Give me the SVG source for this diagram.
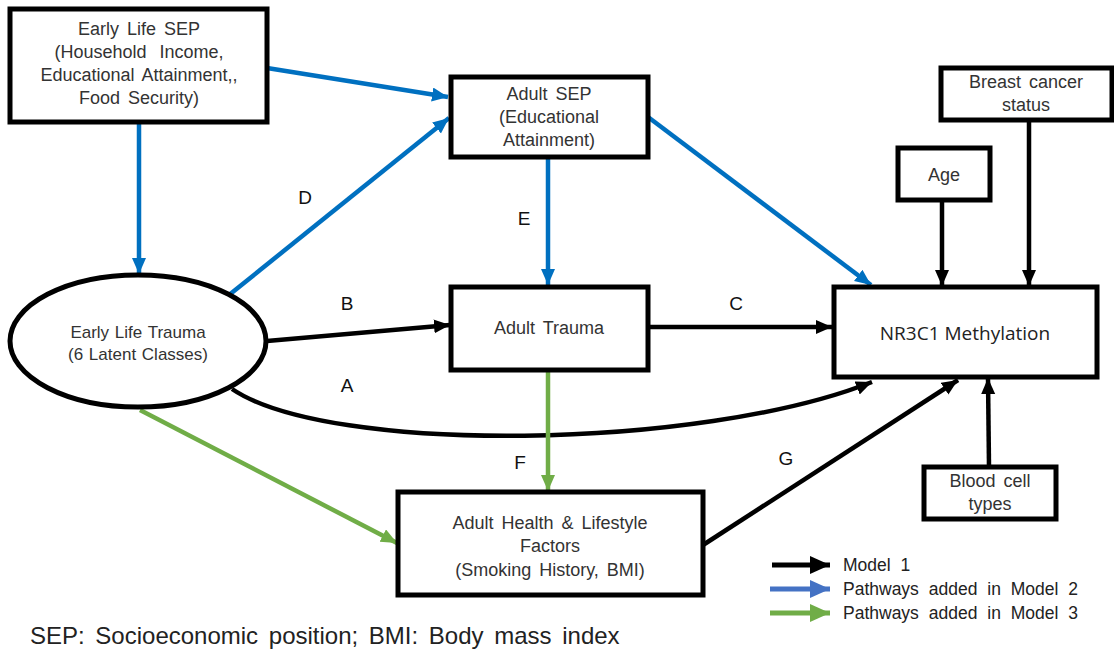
<svg xmlns="http://www.w3.org/2000/svg" width="1114" height="652" viewBox="0 0 1114 652">
<defs>
<marker id="ak" markerUnits="userSpaceOnUse" markerWidth="18" markerHeight="16" refX="16" refY="7" orient="auto"><path d="M0,0 L16,7 L0,14 z" fill="#000"/></marker>
<marker id="ab" markerUnits="userSpaceOnUse" markerWidth="18" markerHeight="16" refX="16" refY="7" orient="auto"><path d="M0,0 L16,7 L0,14 z" fill="#0070C0"/></marker>
<marker id="ag" markerUnits="userSpaceOnUse" markerWidth="18" markerHeight="16" refX="16" refY="7" orient="auto"><path d="M0,0 L16,7 L0,14 z" fill="#70AD47"/></marker>
<marker id="lb" markerUnits="userSpaceOnUse" markerWidth="22" markerHeight="20" refX="20" refY="9" orient="auto"><path d="M0,0 L20,9 L0,18 z" fill="#4472C4"/></marker>
<marker id="lk" markerUnits="userSpaceOnUse" markerWidth="22" markerHeight="20" refX="20" refY="9" orient="auto"><path d="M0,0 L20,9 L0,18 z" fill="#000"/></marker>
<marker id="lg" markerUnits="userSpaceOnUse" markerWidth="22" markerHeight="20" refX="20" refY="9" orient="auto"><path d="M0,0 L20,9 L0,18 z" fill="#70AD47"/></marker>
</defs>
<style>
.box{fill:#fff;stroke:#000;stroke-width:5}
.t{font-family:"Liberation Sans",Arial,sans-serif;font-size:18px;word-spacing:3px;fill:#333;text-anchor:middle}
.lbl{font-family:"Liberation Sans",Arial,sans-serif;font-size:19px;fill:#111;text-anchor:middle}
.k{fill:none;stroke:#000;stroke-width:4.5}
.b{fill:none;stroke:#0070C0;stroke-width:4.5}
.g{fill:none;stroke:#70AD47;stroke-width:4.5}
.leg{font-family:"Liberation Sans",Arial,sans-serif;font-size:17.5px;word-spacing:5px;fill:#222}
</style>
<rect width="1114" height="652" fill="#fff"/>
<g id="connectors">
<line class="b" x1="267" y1="68" x2="448" y2="97" marker-end="url(#ab)"/>
<line class="b" x1="139" y1="122" x2="139" y2="274" marker-end="url(#ab)"/>
<line class="b" x1="229" y1="295" x2="449" y2="118" marker-end="url(#ab)"/>
<line class="b" x1="648" y1="117" x2="871" y2="285" marker-end="url(#ab)"/>
<line class="b" x1="548" y1="157" x2="548" y2="285" marker-end="url(#ab)"/>
<line class="k" x1="267" y1="341" x2="450" y2="325" marker-end="url(#ak)"/>
<line class="k" x1="648" y1="327" x2="832" y2="327" marker-end="url(#ak)"/>
<path class="k" d="M232,389 C330,455 700,450 872,382" marker-end="url(#ak)"/>
<line class="g" x1="548" y1="370" x2="548" y2="491" marker-end="url(#ag)"/>
<line class="g" x1="140" y1="410" x2="397" y2="543" marker-end="url(#ag)"/>
<line class="k" x1="703" y1="545" x2="958" y2="380" marker-end="url(#ak)"/>
<line class="k" x1="942" y1="200" x2="942" y2="286" marker-end="url(#ak)"/>
<line class="k" x1="1029" y1="120" x2="1029" y2="286" marker-end="url(#ak)"/>
<line class="k" x1="989" y1="467" x2="988" y2="378" marker-end="url(#ak)"/>
<text class="lbl" x="305" y="204">D</text>
<text class="lbl" x="524" y="225">E</text>
<text class="lbl" x="347" y="310">B</text>
<text class="lbl" x="736" y="310">C</text>
<text class="lbl" x="347" y="392">A</text>
<text class="lbl" x="520" y="469">F</text>
<text class="lbl" x="786" y="465">G</text>
</g>
<g id="early-sep">
<rect class="box" x="10" y="9" width="257" height="113"/>
<text class="t" x="139" y="35">Early Life SEP</text>
<text class="t" x="139" y="58" style="word-spacing:8px">(Household Income,</text>
<text class="t" x="139" y="81">Educational Attainment,,</text>
<text class="t" x="139" y="104">Food Security)</text>
</g>
<g id="adult-sep">
<rect class="box" x="451" y="77" width="197" height="80"/>
<text class="t" x="549" y="100">Adult SEP</text>
<text class="t" x="549" y="123">(Educational</text>
<text class="t" x="549" y="146">Attainment)</text>
</g>
<g id="early-trauma">
<ellipse cx="138" cy="341" rx="128" ry="66" fill="#fff" stroke="#000" stroke-width="5"/>
<text class="t" x="138" y="338" style="font-size:17px;word-spacing:1px">Early Life Trauma</text>
<text class="t" x="138" y="360" style="font-size:17px;word-spacing:1px">(6 Latent Classes)</text>
</g>
<g id="adult-trauma">
<rect class="box" x="451" y="287" width="197" height="83"/>
<text class="t" x="549" y="334">Adult Trauma</text>
</g>
<g id="nr3c1">
<rect class="box" x="834" y="287" width="263" height="90"/>
<text x="965" y="340" style="font-family:'Open Sans','Noto Sans',sans-serif;font-size:19px;fill:#222;text-anchor:middle">NR3C1 Methylation</text>
</g>
<g id="health">
<rect class="box" x="398" y="492" width="305" height="103"/>
<text class="t" x="550" y="529">Adult Health &amp; Lifestyle</text>
<text class="t" x="550" y="552">Factors</text>
<text class="t" x="550" y="576">(Smoking History, BMI)</text>
</g>
<g id="age">
<rect class="box" x="898" y="148" width="92" height="52"/>
<text class="t" x="944" y="181">Age</text>
</g>
<g id="breast">
<rect class="box" x="941" y="68" width="171" height="52"/>
<text class="t" x="1026" y="88">Breast cancer</text>
<text class="t" x="1026" y="111">status</text>
</g>
<g id="blood">
<rect class="box" x="924" y="467" width="132" height="52"/>
<text class="t" x="990" y="487">Blood cell</text>
<text class="t" x="990" y="510">types</text>
</g>
<g id="legend">
<line x1="772" y1="565" x2="830" y2="565" stroke="#000" stroke-width="5" marker-end="url(#lk)"/>
<line x1="770" y1="589" x2="830" y2="589" stroke="#4472C4" stroke-width="5" marker-end="url(#lb)"/>
<line x1="770" y1="613" x2="830" y2="613" stroke="#70AD47" stroke-width="5" marker-end="url(#lg)"/>
<text class="leg" x="843" y="571">Model 1</text>
<text class="leg" x="843" y="595">Pathways added in Model 2</text>
<text class="leg" x="843" y="619">Pathways added in Model 3</text>
</g>
<text x="30" y="644" style="font-family:'Liberation Sans',Arial,sans-serif;font-size:24px;word-spacing:4px;fill:#222">SEP: Socioeconomic position; BMI: Body mass index</text>
</svg>
